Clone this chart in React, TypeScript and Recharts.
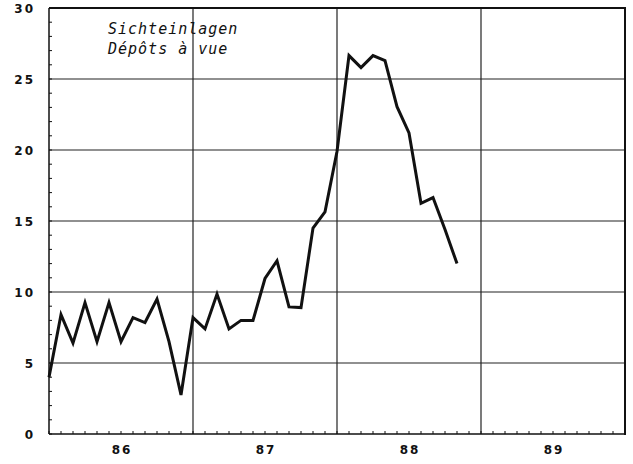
import React from 'react';
import { LineChart, Line, XAxis, YAxis, ReferenceLine } from 'recharts';

// monthly values, Jan 86 onward
const values86 = [4.0, 8.4, 6.4, 9.25, 6.5, 9.25, 6.5, 8.2, 7.85, 9.5, 6.5, 2.75];
const values87 = [8.2, 7.4, 9.85, 7.4, 8.0, 8.0, 10.95, 12.2, 8.95, 8.9, 14.5, 15.65];
const values88 = [19.9, 26.65, 25.8, 26.65, 26.3, 23.05, 21.2, 16.25, 16.65, 14.4, 12.0];

const yearLabels = ['86', '87', '88', '89'];
const yLabelTicks = [0, 5, 10, 15, 20, 25, 30];
const gridY = [5, 10, 15, 20, 25];
const yearBounds = [12, 24, 36];
const titleLines = ['Sichteinlagen', 'Dépôts à vue'];

const allValues = [...values86, ...values87, ...values88];
const data = allValues.map((v, i) => ({ m: i, v }));

const monthTicks = Array.from({ length: 49 }, (_, i) => i);
const unitTicks = Array.from({ length: 31 }, (_, i) => i);

const tickFont = { fontFamily: 'DejaVu Sans', fontWeight: 700, fontSize: 12, letterSpacing: 2 };

const XTick = (props: any) => {
  const { x, y, payload } = props;
  const m = payload.value;
  const yearIdx = (m - 6) / 12;
  const isLabel = Number.isInteger(yearIdx) && yearIdx >= 0 && yearIdx < yearLabels.length;
  return (
    <g>
      <line x1={x} x2={x} y1={y} y2={y - 3} stroke="#111" strokeWidth={1} />
      {isLabel && (
        <text x={x + 1} y={y + 20} textAnchor="middle" fill="#111" style={tickFont}>
          {yearLabels[yearIdx]}
        </text>
      )}
    </g>
  );
};

const YTick = (props: any) => {
  const { x, y, payload } = props;
  const v = payload.value;
  return (
    <g>
      <line x1={x} x2={x + 3} y1={y} y2={y} stroke="#111" strokeWidth={1} />
      {yLabelTicks.includes(v) && (
        <text x={x - 14} y={y + 5} textAnchor="end" fill="#111" style={tickFont}>
          {v}
        </text>
      )}
    </g>
  );
};

export default function App() {
  return (
    <div style={{ position: 'relative', width: 633, height: 464, background: '#fff' }}>
      <style>{`body{margin:0;}`}</style>
      <LineChart width={633} height={464} data={data} margin={{ top: 8, right: 8, bottom: 0, left: 0 }}>
        <XAxis
          dataKey="m"
          type="number"
          domain={[0, 48]}
          ticks={monthTicks}
          interval={0}
          tick={<XTick />}
          tickLine={false}
          tickSize={0}
          tickMargin={0}
          axisLine={{ stroke: '#111', strokeWidth: 1.5 }}
          height={30}
        />
        <YAxis
          type="number"
          domain={[0, 30]}
          ticks={unitTicks}
          interval={0}
          tick={<YTick />}
          tickLine={false}
          tickSize={0}
          tickMargin={0}
          axisLine={{ stroke: '#111', strokeWidth: 1.5 }}
          width={49}
        />
        {gridY.map((g) => (
          <ReferenceLine key={`gy${g}`} y={g} stroke="#222" strokeWidth={1.2} />
        ))}
        {yearBounds.map((b) => (
          <ReferenceLine key={`gx${b}`} x={b} stroke="#222" strokeWidth={1.2} />
        ))}
        <Line
          type="linear"
          dataKey="v"
          stroke="#111"
          strokeWidth={3}
          strokeLinejoin="miter"
          dot={false}
          activeDot={false}
          isAnimationActive={false}
        />
      </LineChart>
      {/* plot frame, top and right sides */}
      <div
        style={{
          position: 'absolute',
          left: 49,
          top: 7,
          width: 577,
          height: 2,
          background: '#111',
          zIndex: 5,
        }}
      />
      <div
        style={{
          position: 'absolute',
          left: 624,
          top: 7,
          width: 2,
          height: 428,
          background: '#111',
          zIndex: 5,
        }}
      />
      <div
        style={{
          position: 'absolute',
          left: 108,
          top: 19,
          fontFamily: 'DejaVu Sans Mono',
          fontStyle: 'italic',
          fontSize: 15,
          letterSpacing: 1,
          lineHeight: '20px',
          color: '#111',
        }}
      >
        {titleLines.map((t) => (
          <div key={t}>{t}</div>
        ))}
      </div>
    </div>
  );
}
